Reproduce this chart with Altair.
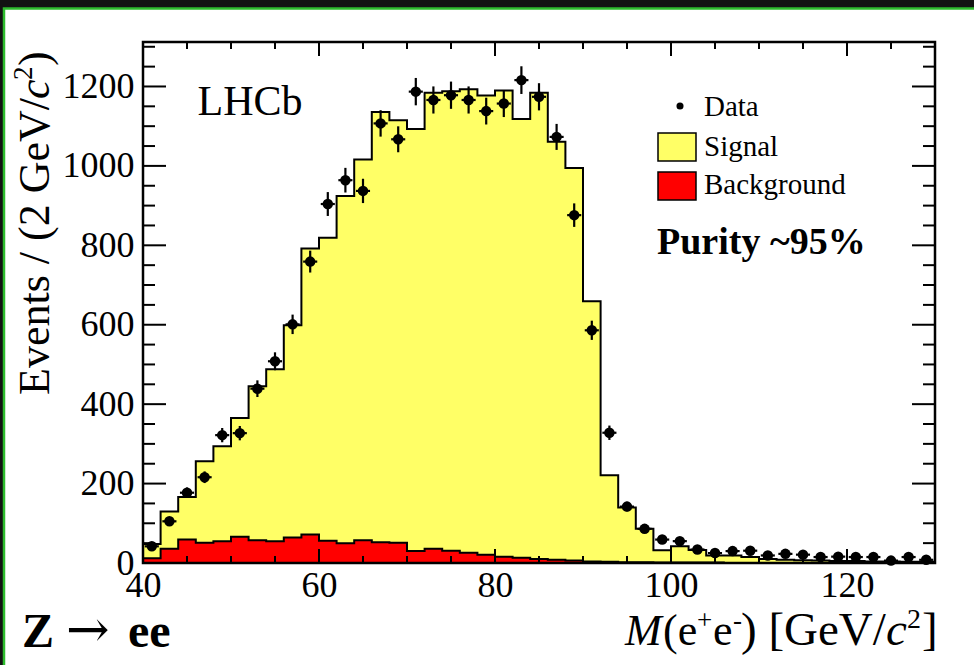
import altair as alt
import numpy as np
import pandas as pd

# ---------------- data ----------------
bin_low = list(range(40, 130, 2))          # 45 bins of 2 GeV, 40..130
bin_width = 2
data_counts = [42, 105, 177, 216, 322, 327, 439, 508, 601, 759,
               904, 964, 937, 1107, 1067, 1187, 1166, 1178, 1166, 1138,
               1157, 1216, 1174, 1073, 876, 586, 328, 142, 86, 59,
               55, 34, 25, 30, 31, 19, 23, 21, 15, 16,
               15, 15, 6, 15, 8]
signal = [36, 94, 107, 205, 239, 299, 388, 433, 535, 720,
          763, 874, 959, 1084, 1064, 1063, 1148, 1157, 1167, 1156,
          1174, 1105, 1174, 1053, 989, 655, 218, 138, 84, 31,
          41, 32, 18, 19, 15, 10, 8, 7, 6, 5,
          5, 4, 4, 3, 3]
background = [12, 36, 59, 51, 55, 66, 57, 55, 64, 72,
              56, 50, 57, 52, 51, 30, 36, 31, 26, 21,
              16, 13, 10, 8, 6, 4, 3, 2, 2, 1,
              1, 1, 1, 0, 0, 0, 0, 0, 0, 0,
              0, 0, 0, 0, 0]
x_major = [40, 60, 80, 100, 120]
x_minor = [v for v in range(45, 130, 5) if v % 20 != 0]
y_major = [0, 200, 400, 600, 800, 1000, 1200]
y_minor = [v for v in range(50, 1310, 50) if v % 200 != 0]

# ---------------- layout ----------------
W, H = 792, 521
X_DOM = [40, 130]
Y_DOM = [0, 1312]
FONT = "Liberation Serif"

xs = alt.Scale(domain=X_DOM, nice=False, zero=False)
ys = alt.Scale(domain=Y_DOM, nice=False, zero=False)
x_axis = alt.Axis(values=x_major, title=None, ticks=False, tickSize=0, domain=False,
                  grid=False, labelFont=FONT, labelFontSize=36, labelColor="black",
                  labelPadding=5, labelFlush=False, zindex=2, format="d")
y_axis = alt.Axis(values=y_major, title=None, ticks=False, tickSize=0, domain=False,
                  grid=False, labelFont=FONT, labelFontSize=36, labelColor="black",
                  labelPadding=9, labelFlush=False, zindex=2, format="d")

def X(field, **kw):
    return alt.X(field, type="quantitative", scale=xs, axis=x_axis, **kw)

def Y(field, **kw):
    return alt.Y(field, type="quantitative", scale=ys, axis=y_axis, **kw)

# histogram step table (edges + closing edge)
edges = bin_low + [bin_low[-1] + bin_width]
total = [s + b for s, b in zip(signal, background)]
hist = pd.DataFrame({
    "edge": edges,
    "total": total + [total[-1]],
    "bkg": background + [background[-1]],
    "zero": [0] * len(edges),
})

centers = [b + bin_width / 2 for b in bin_low]
errs = [np.sqrt(n) for n in data_counts]
pts = pd.DataFrame({
    "c": centers,
    "n": data_counts,
    "lo": [max(n - e, 0) for n, e in zip(data_counts, errs)],
    "hi": [n + e for n, e in zip(data_counts, errs)],
    "xl": [c - 0.8 for c in centers],
    "xr": [c + 0.8 for c in centers],
})

one = pd.DataFrame({"a": [0]})

# background canvas (dark with green border, white page)
page = alt.Chart(one).mark_rect(fill="white", stroke="#2dbb2d", strokeWidth=2.5).encode(
    x=alt.value(-139), x2=alt.value(W + 60), y=alt.value(-33.5), y2=alt.value(H + 130))

yellow = alt.Chart(hist).mark_area(interpolate="step-after", color="#ffff66").encode(
    x=X("edge"), y=Y("zero"), y2="total")
red = alt.Chart(hist).mark_area(interpolate="step-after", color="#ff0000").encode(
    x=X("edge"), y=Y("zero"), y2="bkg")
line_tot = alt.Chart(hist).mark_line(interpolate="step-after", color="black", strokeWidth=2).encode(
    x=X("edge"), y=Y("total"))
line_bkg = alt.Chart(hist).mark_line(interpolate="step-after", color="black", strokeWidth=2).encode(
    x=X("edge"), y=Y("bkg"))

err_v = alt.Chart(pts).mark_rule(color="black", strokeWidth=2.2, clip=True).encode(
    x=X("c"), y=Y("lo"), y2="hi")
err_h = alt.Chart(pts).mark_rule(color="black", strokeWidth=2.2, clip=True).encode(
    x=X("xl"), x2="xr", y=Y("n"))
dots = alt.Chart(pts).mark_circle(color="black", opacity=1, size=110).encode(
    x=X("c"), y=Y("n"))

# inward ticks on all four sides
tx_major = pd.DataFrame({"v": x_major})
tx_minor = pd.DataFrame({"v": x_minor})
ty_major = pd.DataFrame({"v": y_major})
ty_minor = pd.DataFrame({"v": y_minor})

def xticks(df, length):
    b = alt.Chart(df).mark_rule(color="black", strokeWidth=2).encode(
        x=X("v"), y=alt.value(H), y2=alt.value(H - length))
    t = alt.Chart(df).mark_rule(color="black", strokeWidth=2).encode(
        x=X("v"), y=alt.value(0), y2=alt.value(length))
    return [b, t]

def yticks(df, length):
    l = alt.Chart(df).mark_rule(color="black", strokeWidth=2).encode(
        y=Y("v"), x=alt.value(0), x2=alt.value(length))
    r = alt.Chart(df).mark_rule(color="black", strokeWidth=2).encode(
        y=Y("v"), x=alt.value(W), x2=alt.value(W - length))
    return [l, r]

ticks = xticks(tx_major, 14) + xticks(tx_minor, 7) + yticks(ty_major, 23) + yticks(ty_minor, 12)

frame = alt.Chart(one).mark_rect(fill=None, stroke="black", strokeWidth=2.5).encode(
    x=alt.value(0), x2=alt.value(W), y=alt.value(0), y2=alt.value(H))

def txt(text, x, y, size, weight="normal", style="normal", align="left",
        baseline="alphabetic", angle=0, font=FONT):
    kw = dict(text=text, font=font, fontSize=size, fontWeight=weight, fontStyle=style,
              align=align, baseline=baseline, color="black")
    if angle:
        kw["angle"] = angle
    return alt.Chart(one).mark_text(**kw).encode(x=alt.value(x), y=alt.value(y))

texts = [
    txt("LHCb", 107, 60, 42, align="center", baseline="middle"),
    txt("Data", 561, 65, 29, baseline="middle"),
    txt("Signal", 561, 105, 29, baseline="middle"),
    txt("Background", 561, 143, 29, baseline="middle"),
    txt("Purity ~95%", 514, 201, 38, weight="bold", baseline="middle"),
    # y title (rotated, reading upward)
    txt("Events / (2 GeV/", -107, 353, 44, baseline="middle", angle=270),
    txt("c", -107, 57, 44, style="italic", baseline="middle", angle=270),
    txt("2", -119, 38, 27, baseline="middle", angle=270),
    txt(")", -107, 24, 44, baseline="middle", angle=270),
    # x title pieces
    txt("M", 482, 603, 44, style="italic"),
    txt("(e", 520, 603, 44),
    txt("+", 554, 587, 27),
    txt("e", 570, 603, 44),
    txt("-", 590, 587, 27),
    txt(") [GeV/", 598, 603, 47),
    txt("c", 743, 603, 47, style="italic"),
    txt("2", 764, 586, 28),
    txt("]", 779, 603, 47),
    # decay label
    txt("Z", -121, 605, 48, weight="bold"),
    txt("\u2192", -77, 589, 52, font="DejaVu Serif", baseline="middle"),
    txt("ee", -15, 605, 48, weight="bold"),
]

legend_dot = alt.Chart(one).mark_circle(color="black", opacity=1, size=50).encode(
    x=alt.value(537), y=alt.value(64))
legend_sig = alt.Chart(one).mark_rect(fill="#ffff66", stroke="black", strokeWidth=1.5).encode(
    x=alt.value(515), x2=alt.value(553), y=alt.value(91), y2=alt.value(119))
legend_bkg = alt.Chart(one).mark_rect(fill="#ff0000", stroke="black", strokeWidth=1.5).encode(
    x=alt.value(515), x2=alt.value(553), y=alt.value(130), y2=alt.value(158))

chart = alt.layer(
    page, yellow, red, line_tot, line_bkg, err_v, err_h, dots, *ticks, frame,
    legend_dot, legend_sig, legend_bkg, *texts
).properties(
    width=W, height=H,
    autosize=alt.AutoSizeParams(type="none"),
    padding={"left": 143, "top": 42, "right": 39, "bottom": 102},
    background="#121212",
).configure_view(stroke=None)

chart.save("out.html", embed_options={"renderer": "svg", "actions": False})
